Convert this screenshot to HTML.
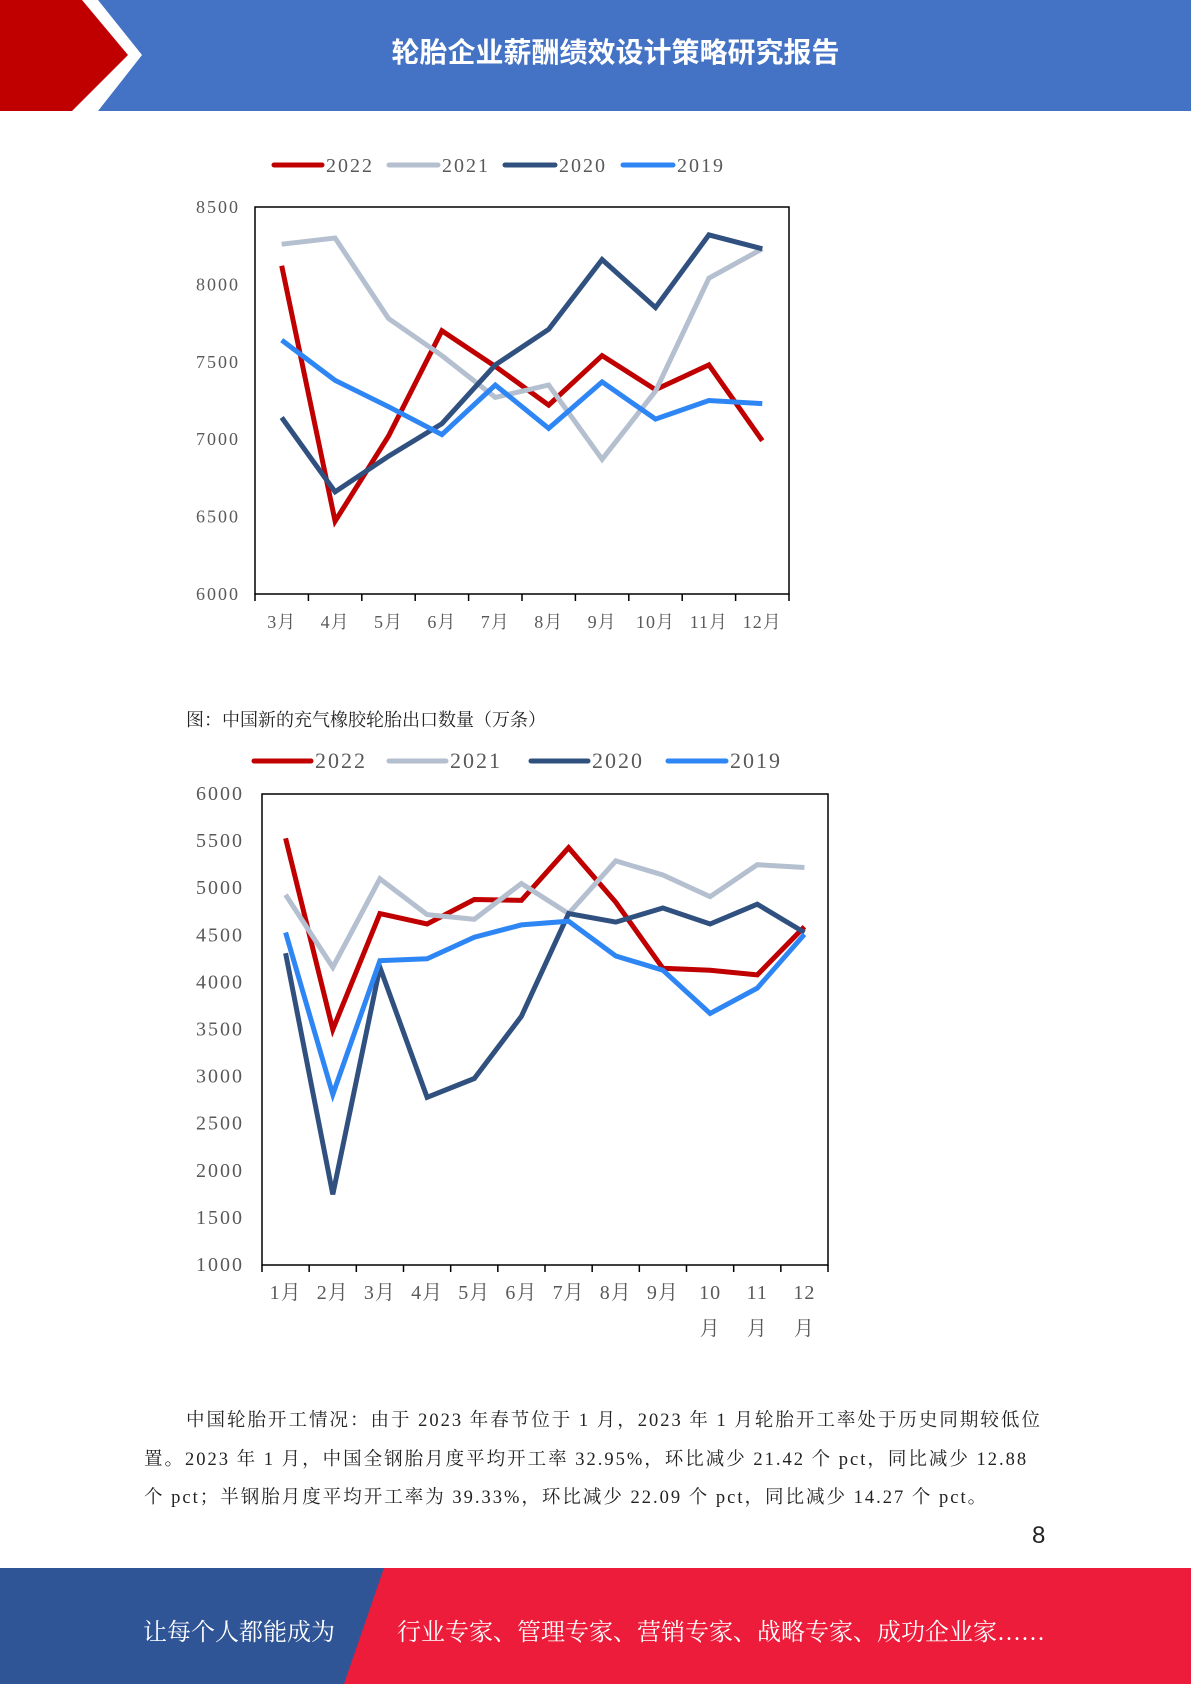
<!DOCTYPE html>
<html><head><meta charset="utf-8">
<style>
body{margin:0;width:1191px;height:1684px;position:relative;background:#fff;overflow:hidden;font-family:"Liberation Serif","Noto Serif CJK SC",serif;}
.abs{position:absolute}
.para{position:absolute;left:144px;width:1000px;font-size:18.5px;color:#222;line-height:38.5px;font-family:"Liberation Serif","Noto Serif CJK SC",serif;white-space:nowrap;letter-spacing:2px}
</style></head><body>
<div class="abs" style="left:0;top:0;width:1191px;height:111px;background:#4472c4"></div>
<svg class="abs" style="left:0;top:0" width="160" height="111">
<polygon points="0,0 98,0 142,55 98,111 0,111" fill="#fff"/>
<polygon points="0,0 82,0 128,55 72,111 0,111" fill="#c00000"/>
</svg>
<div class="abs" style="left:0;width:1191px;top:31px;text-align:center;color:#fff;font-size:28px;font-weight:bold;font-family:'Liberation Sans','Noto Sans CJK SC',sans-serif;padding-left:40px;box-sizing:border-box">轮胎企业薪酬绩效设计策略研究报告</div>

<svg id="c1" class="abs" style="left:0;top:140px" width="1191" height="520"></svg>
<div class="abs" style="left:186px;top:706px;font-size:18px;color:#222">图：中国新的充气橡胶轮胎出口数量（万条）</div>
<svg id="c2" class="abs" style="left:0;top:740px" width="1191" height="620"></svg>

<div class="para" style="top:1402px"><span style="padding-left:42px"></span>中国轮胎开工情况：由于 2023 年春节位于 1 月，2023 年 1 月轮胎开工率处于历史同期较低位<br>置。2023 年 1 月，中国全钢胎月度平均开工率 32.95%，环比减少 21.42 个 pct，同比减少 12.88<br>个 pct；半钢胎月度平均开工率为 39.33%，环比减少 22.09 个 pct，同比减少 14.27 个 pct。</div>
<div class="abs" style="left:1032px;top:1522px;font-size:24px;font-family:'Liberation Sans',sans-serif;color:#222">8</div>

<svg class="abs" style="left:0;top:1568px" width="1191" height="116">
<rect width="1191" height="116" fill="#ed1c3a"/>
<polygon points="0,0 384,0 344,116 0,116" fill="#2f5597"/>
</svg>
<div class="abs" style="left:143px;top:1612px;color:#fff;font-size:24px">让每个人都能成为</div>
<div class="abs" style="left:397px;top:1612px;color:#fff;font-size:24px">行业专家、管理专家、营销专家、战略专家、成功企业家……</div>

<script>
const NS="http://www.w3.org/2000/svg";
const seriesNames=["2022","2021","2020","2019"];
const colors=["#c00000","#b4bfcf","#30507f","#2e86f5"];
// chart 1
const cats1=["3月","4月","5月","6月","7月","8月","9月","10月","11月","12月"];
const yTicks1=[6000,6500,7000,7500,8000,8500];
const s1_2022=[8120,6470,7020,7700,7470,7220,7540,7320,7480,6990];
const s1_2021=[8260,8300,7780,7540,7270,7350,6870,7310,8040,8230];
const s1_2020=[7140,6660,6890,7100,7480,7710,8160,7850,8320,8230];
const s1_2019=[7640,7380,7210,7030,7350,7070,7370,7130,7250,7230];
// chart 2
const cats2=["1月","2月","3月","4月","5月","6月","7月","8月","9月","10|月","11|月","12|月"];
const yTicks2=[1000,1500,2000,2500,3000,3500,4000,4500,5000,5500,6000];
const s2_2022=[5530,3500,4730,4620,4880,4870,5430,4850,4150,4130,4080,4590];
const s2_2021=[4930,4160,5100,4720,4670,5050,4730,5290,5140,4910,5250,5220];
const s2_2020=[4310,1750,4160,2780,2980,3640,4730,4640,4790,4620,4830,4530];
const s2_2019=[4530,2810,4230,4250,4480,4610,4650,4280,4130,3670,3940,4510];

function el(svg,tag,attrs,text){const e=document.createElementNS(NS,tag);for(const k in attrs)e.setAttribute(k,attrs[k]);if(text!=null)e.textContent=text;svg.appendChild(e);return e;}

function draw(svg,cfg){
  const {x0,x1,y0,y1,min,max,cats,ticks,series,legend,fs,tickX}=cfg;
  const xs=i=>x0+(x1-x0)/cats.length*(i+0.5);
  const ys=v=>y1-(v-min)/(max-min)*(y1-y0);
  legend.forEach((lg,i)=>{
    const ln=el(svg,'line',{x1:lg[0],x2:lg[1],y1:legend.y,y2:legend.y,stroke:colors[i],'stroke-width':5,'stroke-linecap':'round'});
    
    
    const t=el(svg,'text',{x:lg[1]+4,y:legend.y+7,'font-size':fs+2,fill:'#595959','letter-spacing':2},seriesNames[i]);
    
    
  });
  const box=el(svg,'rect',{x:x0,y:y0,width:x1-x0,height:y1-y0,fill:'none',stroke:'#000','stroke-width':1.5});
  
  
  ticks.forEach(v=>{
    const t=el(svg,'text',{x:tickX,y:ys(v)+6,'text-anchor':'end','font-size':fs,fill:'#595959','letter-spacing':2},String(v));
    
    
  });
  for(let i=0;i<=cats.length;i++){
    const x=x0+(x1-x0)/cats.length*i;
    el(svg,'line',{x1:x,x2:x,y1:y1,y2:y1+7,stroke:'#000','stroke-width':1.5});
  }
  cats.forEach((c,i)=>{
    const parts=c.split('|');
    parts.forEach((p,j)=>{
      const t=el(svg,'text',{x:xs(i),y:y1+34+j*36,'text-anchor':'middle','font-size':fs,fill:'#595959','letter-spacing':1},p);
      
      
    });
  });
  series.forEach((s,k)=>{
    const pts=s.map((v,i)=>xs(i).toFixed(1)+','+ys(v).toFixed(1)).join(' ');
    const pl=el(svg,'polyline',{points:pts,fill:'none',stroke:colors[k],'stroke-width':5,'stroke-linejoin':'miter'});
    
    
  });
}
const lg1=[[274,322],[389,438],[505,555],[623,673]];lg1.y=25;
draw(document.getElementById('c1'),{x0:255,x1:789,y0:67,y1:454,min:6000,max:8500,cats:cats1,ticks:yTicks1,
  series:[s1_2022,s1_2021,s1_2020,s1_2019],legend:lg1,fs:18,tickX:240});
const lg2=[[254,311],[389,446],[531,588],[668,726]];lg2.y=21;
draw(document.getElementById('c2'),{x0:262,x1:828,y0:54,y1:525,min:1000,max:6000,cats:cats2,ticks:yTicks2,
  series:[s2_2022,s2_2021,s2_2020,s2_2019],legend:lg2,fs:20,tickX:244});
</script>
</body></html>
